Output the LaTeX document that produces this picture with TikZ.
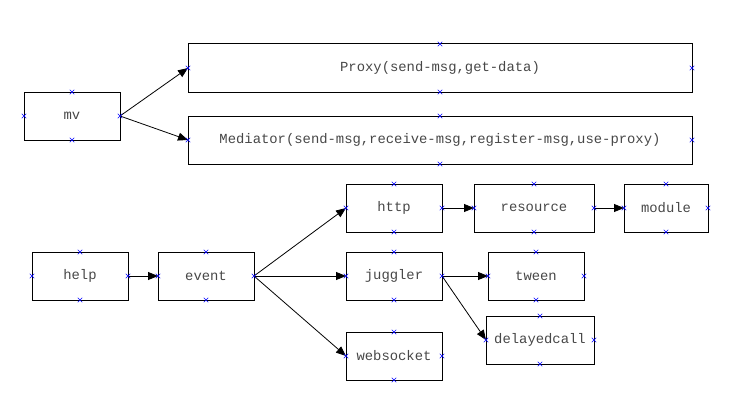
\documentclass[tikz,border=0pt]{standalone}
\usepackage{fontspec}
\setmonofont{Liberation Mono}
\usepackage{tikz}
\usetikzlibrary{positioning,arrows.meta,shapes.misc}

\begin{document}
\begin{tikzpicture}[
  x=0.75pt, y=-0.75pt,
  node distance=23pt,
  box/.style={rectangle, draw, line width=0.75pt, minimum height=36pt,
    inner sep=0pt, outer sep=0pt, text=black!72, font=\ttfamily\fontsize{10.4}{12}\selectfont},
  wide/.style={box, minimum width=378pt},
  anchormark/.style={cross out, draw=blue, line width=0.4pt, minimum size=3pt, inner sep=0pt},
  link/.style={draw, line width=0.6pt, -{Triangle[length=7.5pt,width=6pt]}}
]
  \useasboundingbox (0,0) rectangle (734,403);

  % top group
  \node[box, minimum width=72pt] (mv) at (72,116) {mv};
  \node[wide] (proxy) at (440,68) {Proxy(send-msg,get-data)};
  \node[wide] (mediator) at (440,140) {Mediator(send-msg,receive-msg,register-msg,use-proxy)};

  % bottom group
  \node[box, minimum width=72pt] (help) at (80,276) {help};
  \node[box, minimum width=72pt] (event) at (206,276) {event};
  \node[box, minimum width=72pt] (http) at (394,208) {http};
  \node[box, minimum width=90pt] (resource) [right=24pt of http] {resource};
  \node[box, minimum width=63pt] (module) [right=22.5pt of resource] {module};
  \node[box, minimum width=72pt] (juggler) at (394,276) {juggler};
  \node[box, minimum width=72pt] (tween) at (536,276) {tween};
  \node[box, minimum width=81pt] (delayedcall) at (540,340) {delayedcall};
  \node[box, minimum width=72pt] (websocket) at (394,356) {websocket};

  \foreach \dst in {proxy,mediator}
    \draw[link] (mv.east) -- (\dst.west);
  \draw[link] (help.east) -- (event.west);
  \foreach \dst in {http,juggler,websocket}
    \draw[link] (event.east) -- (\dst.west);
  \draw[link] (http.east) -- (resource.west);
  \draw[link] (resource.east) -- (module.west);
  \foreach \dst in {tween,delayedcall}
    \draw[link] (juggler.east) -- (\dst.west);

  % connection points
  \foreach \n in {mv,proxy,mediator,help,event,http,resource,module,juggler,tween,delayedcall,websocket}
    \foreach \a in {north,south,east,west}
      \node[anchormark] at (\n.\a) {};
\end{tikzpicture}
\end{document}
